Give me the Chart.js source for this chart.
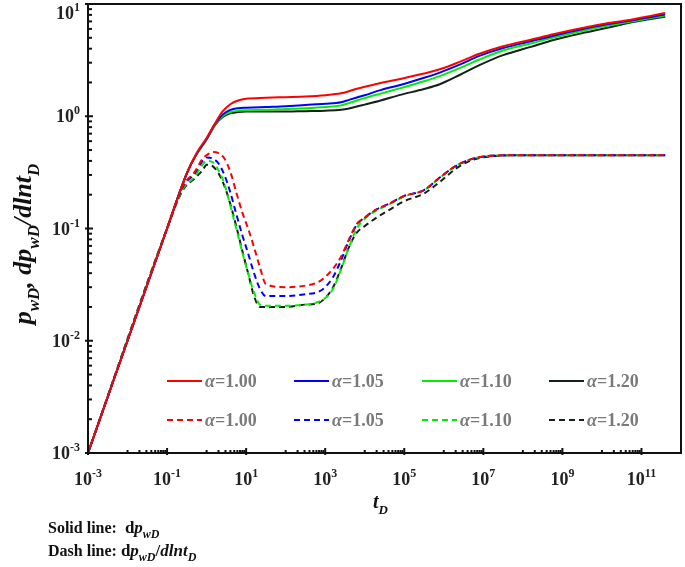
<!DOCTYPE html>
<html>
<head>
<meta charset="utf-8">
<script src="https://cdn.jsdelivr.net/npm/chart.js@4.4.1/dist/chart.umd.min.js"></script>
<style>
  html, body { margin: 0; padding: 0; background: #fff; }
  #wrap { width: 685px; height: 567px; }
</style>
</head>
<body>
<div id="wrap"><canvas id="chart" width="685" height="567"></canvas></div>
<script>
// series labels + colours
const alphaLabels = ["α=1.00", "α=1.05", "α=1.10", "α=1.20"];
const lineColors = ["#ff0000", "#0000ff", "#00ee00", "#14201a"];

// solid lines: dp_wD  (x given as log10 of t_D)
const logTSolid = [-3, -1, -0.5, -0.25, 0, 0.2, 0.4, 0.6, 0.8, 1.0, 1.5, 2, 2.5, 3, 3.4, 3.6, 3.8, 4.0, 4.4, 4.9, 5.5, 5.9, 6.4, 6.9, 7.5, 8.2, 8.8, 9.5, 10.1, 10.7, 11.2, 11.6];
const solid100 = [0.001, 0.1, 0.31, 0.47, 0.64, 0.85, 1.1, 1.28, 1.38, 1.43, 1.46, 1.48, 1.50, 1.54, 1.60, 1.67, 1.76, 1.83, 1.98, 2.15, 2.40, 2.62, 3.05, 3.6, 4.2, 4.8, 5.4, 6.1, 6.7, 7.2, 7.8, 8.3];
const solid105 = [0.001, 0.1, 0.31, 0.465, 0.63, 0.84, 1.03, 1.14, 1.18, 1.19, 1.21, 1.23, 1.26, 1.29, 1.33, 1.40, 1.47, 1.54, 1.71, 1.90, 2.2, 2.45, 2.88, 3.45, 4.05, 4.65, 5.25, 5.95, 6.55, 7.1, 7.6, 8.1];
const solid110 = [0.001, 0.1, 0.31, 0.46, 0.625, 0.83, 1.0, 1.09, 1.12, 1.13, 1.14, 1.16, 1.18, 1.21, 1.25, 1.31, 1.38, 1.45, 1.59, 1.78, 2.05, 2.28, 2.68, 3.2, 3.85, 4.45, 5.05, 5.75, 6.35, 6.95, 7.45, 7.9];
const solid120 = [0.001, 0.1, 0.31, 0.46, 0.62, 0.82, 0.98, 1.06, 1.09, 1.10, 1.10, 1.10, 1.11, 1.12, 1.14, 1.17, 1.22, 1.27, 1.38, 1.55, 1.75, 1.93, 2.33, 2.85, 3.5, 4.15, 4.8, 5.5, 6.1, 6.8, 7.3, 7.7];

// dashed lines: dp_wD/dlnt_D
const logTDash = [-3, -1, -0.6, -0.3, -0.1, 0, 0.15, 0.3, 0.45, 0.6, 0.75, 0.9, 1.05, 1.2, 1.35, 1.5, 2, 2.5, 2.8, 3.0, 3.2, 3.4, 3.6, 3.8, 4.0, 4.3, 4.6, 5.0, 5.5, 5.9, 6.3, 6.7, 7.2, 8, 9, 10, 11, 11.6];
const dash100 = [0.001, 0.1, 0.24, 0.32, 0.42, 0.45, 0.48, 0.47, 0.42, 0.32, 0.21, 0.14, 0.10, 0.068, 0.045, 0.032, 0.030, 0.031, 0.033, 0.037, 0.044, 0.056, 0.080, 0.11, 0.125, 0.148, 0.165, 0.195, 0.22, 0.285, 0.36, 0.415, 0.445, 0.45, 0.45, 0.45, 0.45, 0.45];
const dash105 = [0.001, 0.1, 0.235, 0.31, 0.40, 0.43, 0.42, 0.38, 0.30, 0.21, 0.135, 0.088, 0.06, 0.040, 0.029, 0.025, 0.025, 0.026, 0.027, 0.030, 0.037, 0.052, 0.078, 0.108, 0.125, 0.148, 0.165, 0.195, 0.22, 0.285, 0.36, 0.415, 0.445, 0.45, 0.45, 0.45, 0.45, 0.45];
const dash110 = [0.001, 0.1, 0.225, 0.29, 0.37, 0.40, 0.39, 0.33, 0.25, 0.16, 0.10, 0.062, 0.040, 0.027, 0.021, 0.0205, 0.0205, 0.021, 0.022, 0.024, 0.029, 0.043, 0.068, 0.10, 0.122, 0.145, 0.163, 0.193, 0.22, 0.283, 0.36, 0.415, 0.445, 0.45, 0.45, 0.45, 0.45, 0.45];
const dash120 = [0.001, 0.1, 0.22, 0.28, 0.33, 0.37, 0.36, 0.31, 0.24, 0.165, 0.105, 0.064, 0.040, 0.025, 0.020, 0.020, 0.020, 0.021, 0.0215, 0.024, 0.030, 0.044, 0.068, 0.092, 0.105, 0.125, 0.145, 0.175, 0.205, 0.26, 0.34, 0.405, 0.44, 0.45, 0.45, 0.45, 0.45, 0.45];

// axis tick exponents
const xTickExps = [-3, -1, 1, 3, 5, 7, 9, 11];
const yTickExps = [1, 0, -1, -2, -3];

const SERIF = '"Liberation Serif", "Times New Roman", serif';

function pts(logT, vals) {
  return logT.map((e, i) => ({ x: Math.pow(10, e), y: vals[i] }));
}

const solidSets = [solid100, solid105, solid110, solid120];
const dashSets = [dash100, dash105, dash110, dash120];

const datasets = [];
solidSets.forEach((v, i) => datasets.push({
  label: alphaLabels[i], data: pts(logTSolid, v), borderColor: lineColors[i],
  borderWidth: 2, pointRadius: 0, fill: false, cubicInterpolationMode: 'monotone'
}));
dashSets.forEach((v, i) => datasets.push({
  label: alphaLabels[i], data: pts(logTDash, v), borderColor: lineColors[i],
  borderWidth: 2, borderDash: [6, 4], pointRadius: 0, fill: false, cubicInterpolationMode: 'monotone'
}));

// draws a list of text pieces starting at x (pieces: {t, size, italic, sub, sup})
function drawPieces(ctx, pieces, x, y, color) {
  ctx.fillStyle = color;
  ctx.textBaseline = 'alphabetic';
  ctx.textAlign = 'left';
  let cx = x;
  pieces.forEach(p => {
    ctx.font = (p.italic ? 'italic ' : '') + 'bold ' + p.size + 'px ' + SERIF;
    let dy = 0;
    if (p.sub) dy = p.size * 0.45;
    if (p.sup) dy = -p.size * 0.65;
    ctx.fillText(p.t, cx, y + dy);
    cx += ctx.measureText(p.t).width;
  });
  return cx - x;
}
function piecesWidth(ctx, pieces) {
  let w = 0;
  pieces.forEach(p => {
    ctx.font = (p.italic ? 'italic ' : '') + 'bold ' + p.size + 'px ' + SERIF;
    w += ctx.measureText(p.t).width;
  });
  return w;
}
function powLabel(e) {
  return [{ t: '10', size: 18 }, { t: String(e), size: 12, sup: true }];
}

const decorPlugin = {
  id: 'decor',
  afterDraw(chart) {
    const ctx = chart.ctx;
    const xs = chart.scales.x, ys = chart.scales.y;
    const a = chart.chartArea;
    ctx.save();
    ctx.strokeStyle = '#111';
    ctx.lineWidth = 2;
    ctx.setLineDash([]);
    ctx.strokeRect(a.left, a.top, a.right - a.left, a.bottom - a.top);

    // y ticks (inward)
    for (let e = -3; e <= 1; e++) {
      const py = ys.getPixelForValue(Math.pow(10, e));
      ctx.beginPath(); ctx.moveTo(a.left - 3, py); ctx.lineTo(a.left + 5, py); ctx.stroke();
      if (e < 1) {
        for (let m = 2; m <= 9; m++) {
          const my = ys.getPixelForValue(m * Math.pow(10, e));
          ctx.beginPath(); ctx.moveTo(a.left, my); ctx.lineTo(a.left + 4, my); ctx.stroke();
        }
      }
    }
    // x ticks (inward), minor ticks only in the decade before each labelled one
    xTickExps.forEach(e => {
      const px = xs.getPixelForValue(Math.pow(10, e));
      ctx.beginPath(); ctx.moveTo(px, a.bottom + 2); ctx.lineTo(px, a.bottom - 5); ctx.stroke();
      if (e < 11) {
        for (let m = 1; m <= 9; m++) {
          const mx = xs.getPixelForValue(m * Math.pow(10, e + 1));
          ctx.beginPath(); ctx.moveTo(mx, a.bottom); ctx.lineTo(mx, a.bottom - 3); ctx.stroke();
        }
      }
    });

    // tick labels (top one pushed down so it stays on the canvas)
    yTickExps.forEach(e => {
      const py = ys.getPixelForValue(Math.pow(10, e));
      const p = powLabel(e);
      const w = piecesWidth(ctx, p);
      drawPieces(ctx, p, a.left - 8 - w, Math.max(py + 6, 19), '#222');
    });
    xTickExps.forEach(e => {
      const px = xs.getPixelForValue(Math.pow(10, e));
      const p = powLabel(e);
      const w = piecesWidth(ctx, p);
      drawPieces(ctx, p, px - w / 2, a.bottom + 32, '#222');
    });

    // axis titles
    const xt = [{ t: 't', size: 20, italic: true }, { t: 'D', size: 13, italic: true, sub: true }];
    drawPieces(ctx, xt, (a.left + a.right) / 2 - piecesWidth(ctx, xt) / 2 - 4, a.bottom + 55, '#111');

    const yt = [
      { t: 'p', size: 26, italic: true }, { t: 'wD', size: 17, italic: true, sub: true },
      { t: ', dp', size: 26, italic: true }, { t: 'wD', size: 17, italic: true, sub: true },
      { t: '/dlnt', size: 26, italic: true }, { t: 'D', size: 17, italic: true, sub: true }
    ];
    ctx.save();
    ctx.translate(31, 244);
    ctx.rotate(-Math.PI / 2);
    drawPieces(ctx, yt, -piecesWidth(ctx, yt) / 2, 0, '#111');
    ctx.restore();

    // custom two-row legend
    const colX = [167, 294, 422, 549];
    const rowY = [381, 420];
    [[0, []], [4, [6, 4]]].forEach((grp, r) => {
      for (let k = 0; k < 4; k++) {
        const ds = chart.data.datasets[grp[0] + k];
        ctx.strokeStyle = ds.borderColor;
        ctx.lineWidth = 2;
        ctx.setLineDash(grp[1]);
        ctx.beginPath();
        ctx.moveTo(colX[k], rowY[r]); ctx.lineTo(colX[k] + 35, rowY[r]);
        ctx.stroke();
        ctx.setLineDash([]);
        const lab = ds.label;
        drawPieces(ctx, [{ t: lab.slice(0, 1), size: 18, italic: true }, { t: lab.slice(1), size: 18 }],
          colX[k] + 38, rowY[r] + 6, '#7a7a7a');
      }
    });

    // notes under the chart
    drawPieces(ctx, [
      { t: 'Solid line:  ', size: 16 }, { t: 'd', size: 17 },
      { t: 'p', size: 17, italic: true }, { t: 'wD', size: 12, italic: true, sub: true }
    ], 48, 533, '#111');
    drawPieces(ctx, [
      { t: 'Dash line: ', size: 16 }, { t: 'd', size: 17 },
      { t: 'p', size: 17, italic: true }, { t: 'wD', size: 12, italic: true, sub: true },
      { t: '/', size: 17 }, { t: 'dlnt', size: 17, italic: true }, { t: 'D', size: 12, italic: true, sub: true }
    ], 48, 556, '#111');
    ctx.restore();
  }
};

new Chart(document.getElementById('chart').getContext('2d'), {
  type: 'line',
  data: { datasets: datasets },
  options: {
    responsive: false,
    animation: false,
    devicePixelRatio: 1,
    layout: { padding: { left: 88, top: 4, right: 4, bottom: 114 } },
    plugins: { legend: { display: false }, tooltip: { enabled: false } },
    scales: {
      x: { type: 'logarithmic', min: 1e-3, max: 1e12, display: false },
      y: { type: 'logarithmic', min: 1e-3, max: 10, display: false }
    }
  },
  plugins: [decorPlugin]
});
</script>
</body>
</html>
